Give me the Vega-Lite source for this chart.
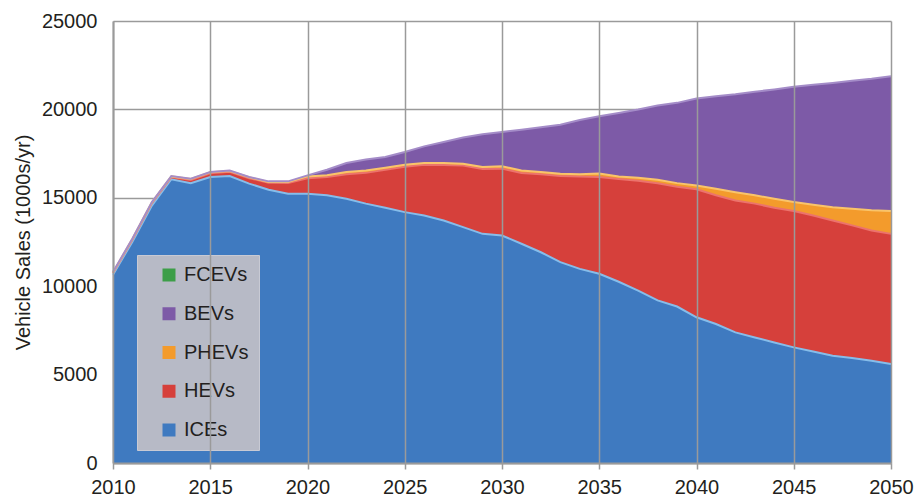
{
  "$schema": "https://vega.github.io/schema/vega-lite/v6.json",
  "width": 778,
  "height": 442,
  "autosize": {"type": "none"},
  "padding": {"left": 113, "top": 21, "right": 28, "bottom": 36},
  "background": "white",
  "config": {"view": {"stroke": null}, "font": "Liberation Sans"},
  "data": {"values": [
    {"year": 2010, "ICEs": 10650, "HEVs": 100, "PHEVs": 30, "BEVs": 20, "FCEVs": 0},
    {"year": 2011, "ICEs": 12520, "HEVs": 120, "PHEVs": 40, "BEVs": 20, "FCEVs": 0},
    {"year": 2012, "ICEs": 14560, "HEVs": 140, "PHEVs": 40, "BEVs": 20, "FCEVs": 0},
    {"year": 2013, "ICEs": 16050, "HEVs": 120, "PHEVs": 40, "BEVs": 20, "FCEVs": 0},
    {"year": 2014, "ICEs": 15820, "HEVs": 190, "PHEVs": 50, "BEVs": 20, "FCEVs": 0},
    {"year": 2015, "ICEs": 16170, "HEVs": 220, "PHEVs": 50, "BEVs": 20, "FCEVs": 0},
    {"year": 2016, "ICEs": 16230, "HEVs": 240, "PHEVs": 50, "BEVs": 20, "FCEVs": 0},
    {"year": 2017, "ICEs": 15800, "HEVs": 310, "PHEVs": 50, "BEVs": 20, "FCEVs": 0},
    {"year": 2018, "ICEs": 15460, "HEVs": 390, "PHEVs": 50, "BEVs": 30, "FCEVs": 0},
    {"year": 2019, "ICEs": 15230, "HEVs": 610, "PHEVs": 50, "BEVs": 40, "FCEVs": 0},
    {"year": 2020, "ICEs": 15230, "HEVs": 870, "PHEVs": 110, "BEVs": 60, "FCEVs": 0},
    {"year": 2021, "ICEs": 15140, "HEVs": 1040, "PHEVs": 90, "BEVs": 320, "FCEVs": 0},
    {"year": 2022, "ICEs": 14950, "HEVs": 1380, "PHEVs": 130, "BEVs": 510, "FCEVs": 0},
    {"year": 2023, "ICEs": 14670, "HEVs": 1740, "PHEVs": 140, "BEVs": 610, "FCEVs": 0},
    {"year": 2024, "ICEs": 14440, "HEVs": 2140, "PHEVs": 120, "BEVs": 610, "FCEVs": 0},
    {"year": 2025, "ICEs": 14190, "HEVs": 2570, "PHEVs": 110, "BEVs": 720, "FCEVs": 0},
    {"year": 2026, "ICEs": 14000, "HEVs": 2870, "PHEVs": 100, "BEVs": 940, "FCEVs": 0},
    {"year": 2027, "ICEs": 13720, "HEVs": 3140, "PHEVs": 110, "BEVs": 1190, "FCEVs": 0},
    {"year": 2028, "ICEs": 13340, "HEVs": 3480, "PHEVs": 110, "BEVs": 1480, "FCEVs": 0},
    {"year": 2029, "ICEs": 12960, "HEVs": 3670, "PHEVs": 110, "BEVs": 1850, "FCEVs": 0},
    {"year": 2030, "ICEs": 12870, "HEVs": 3780, "PHEVs": 130, "BEVs": 1940, "FCEVs": 0},
    {"year": 2031, "ICEs": 12400, "HEVs": 4000, "PHEVs": 150, "BEVs": 2300, "FCEVs": 0},
    {"year": 2032, "ICEs": 11920, "HEVs": 4410, "PHEVs": 130, "BEVs": 2530, "FCEVs": 0},
    {"year": 2033, "ICEs": 11360, "HEVs": 4880, "PHEVs": 120, "BEVs": 2770, "FCEVs": 0},
    {"year": 2034, "ICEs": 10980, "HEVs": 5220, "PHEVs": 130, "BEVs": 3070, "FCEVs": 0},
    {"year": 2035, "ICEs": 10700, "HEVs": 5480, "PHEVs": 190, "BEVs": 3240, "FCEVs": 0},
    {"year": 2036, "ICEs": 10250, "HEVs": 5820, "PHEVs": 140, "BEVs": 3590, "FCEVs": 0},
    {"year": 2037, "ICEs": 9750, "HEVs": 6210, "PHEVs": 180, "BEVs": 3850, "FCEVs": 0},
    {"year": 2038, "ICEs": 9200, "HEVs": 6620, "PHEVs": 200, "BEVs": 4200, "FCEVs": 0},
    {"year": 2039, "ICEs": 8850, "HEVs": 6770, "PHEVs": 210, "BEVs": 4540, "FCEVs": 0},
    {"year": 2040, "ICEs": 8240, "HEVs": 7240, "PHEVs": 220, "BEVs": 4920, "FCEVs": 0},
    {"year": 2041, "ICEs": 7860, "HEVs": 7280, "PHEVs": 370, "BEVs": 5240, "FCEVs": 0},
    {"year": 2042, "ICEs": 7390, "HEVs": 7460, "PHEVs": 470, "BEVs": 5540, "FCEVs": 0},
    {"year": 2043, "ICEs": 7100, "HEVs": 7570, "PHEVs": 470, "BEVs": 5860, "FCEVs": 0},
    {"year": 2044, "ICEs": 6820, "HEVs": 7620, "PHEVs": 510, "BEVs": 6180, "FCEVs": 0},
    {"year": 2045, "ICEs": 6540, "HEVs": 7710, "PHEVs": 510, "BEVs": 6520, "FCEVs": 0},
    {"year": 2046, "ICEs": 6310, "HEVs": 7690, "PHEVs": 610, "BEVs": 6780, "FCEVs": 0},
    {"year": 2047, "ICEs": 6070, "HEVs": 7650, "PHEVs": 750, "BEVs": 7030, "FCEVs": 0},
    {"year": 2048, "ICEs": 5940, "HEVs": 7500, "PHEVs": 940, "BEVs": 7240, "FCEVs": 0},
    {"year": 2049, "ICEs": 5780, "HEVs": 7370, "PHEVs": 1140, "BEVs": 7440, "FCEVs": 0},
    {"year": 2050, "ICEs": 5600, "HEVs": 7360, "PHEVs": 1290, "BEVs": 7630, "FCEVs": 0}
  ]},
  "transform": [
    {"fold": ["ICEs", "HEVs", "PHEVs", "BEVs", "FCEVs"], "as": ["type", "sales"]},
    {"calculate": "indexof(['ICEs','HEVs','PHEVs','BEVs','FCEVs'], datum.type)", "as": "stackOrder"}
  ],
  "layer": [
    {
      "mark": {"type": "area", "interpolate": "linear"},
      "encoding": {
        "x": {
          "field": "year", "type": "quantitative",
          "scale": {"domain": [2010, 2050], "nice": false, "zero": false},
          "axis": {
            "values": [2010, 2015, 2020, 2025, 2030, 2035, 2040, 2045, 2050],
            "format": "d", "title": null,
            "labelFontSize": 20, "labelColor": "#231f20", "labelFlush": false, "labelPadding": 8,
            "grid": true, "gridColor": "#9a9a9a", "gridWidth": 1.5,
            "domainColor": "#9a9a9a", "domainWidth": 2,
            "tickColor": "#9a9a9a", "tickSize": 6, "tickWidth": 1.5,
            "zindex": 1
          }
        },
        "y": {
          "field": "sales", "type": "quantitative", "stack": "zero",
          "scale": {"domain": [0, 25000], "nice": false},
          "axis": {
            "values": [0, 5000, 10000, 15000, 20000, 25000],
            "format": "d",
            "title": "Vehicle Sales (1000s/yr)",
            "titleFontSize": 20, "titleFontWeight": "normal", "titleColor": "#231f20", "titlePadding": 8,
            "labelFontSize": 20, "labelColor": "#231f20", "labelPadding": 16,
            "ticks": false, "grid": true, "gridColor": "#9a9a9a", "gridWidth": 1.5,
            "domainColor": "#9a9a9a", "domainWidth": 2,
            "zindex": 0
          }
        },
        "color": {
          "field": "type", "type": "nominal",
          "scale": {
            "domain": ["FCEVs", "BEVs", "PHEVs", "HEVs", "ICEs"],
            "range": ["#3c9e48", "#7d5aa7", "#f39b2c", "#d6403b", "#3f7ac0"]
          },
          "legend": {
            "orient": "none", "legendX": 24, "legendY": 234,
            "title": null, "padding": 10, "symbolOffset": 12,
            "fillColor": "#b7bac6", "strokeColor": "#c8cad4",
            "symbolType": "square", "symbolSize": 169, "symbolStrokeWidth": 0,
            "labelFontSize": 20, "labelColor": "#231f20", "labelOffset": 5,
            "rowPadding": 18.75
          }
        },
        "order": {"field": "stackOrder", "type": "quantitative"}
      }
    },
    {
      "transform": [{"filter": "datum.type != 'FCEVs'"}],
      "mark": {"type": "line", "interpolate": "linear", "strokeWidth": 2},
      "encoding": {
        "x": {"field": "year", "type": "quantitative"},
        "y": {"field": "sales", "type": "quantitative", "stack": "zero"},
        "stroke": {
          "field": "type", "type": "nominal",
          "scale": {
            "domain": ["BEVs", "PHEVs", "HEVs", "ICEs"],
            "range": ["#a48cc8", "#f9c46a", "#ec736c", "#86bdea"]
          },
          "legend": null
        },
        "order": {"field": "stackOrder", "type": "quantitative"}
      }
    }
  ]
}
